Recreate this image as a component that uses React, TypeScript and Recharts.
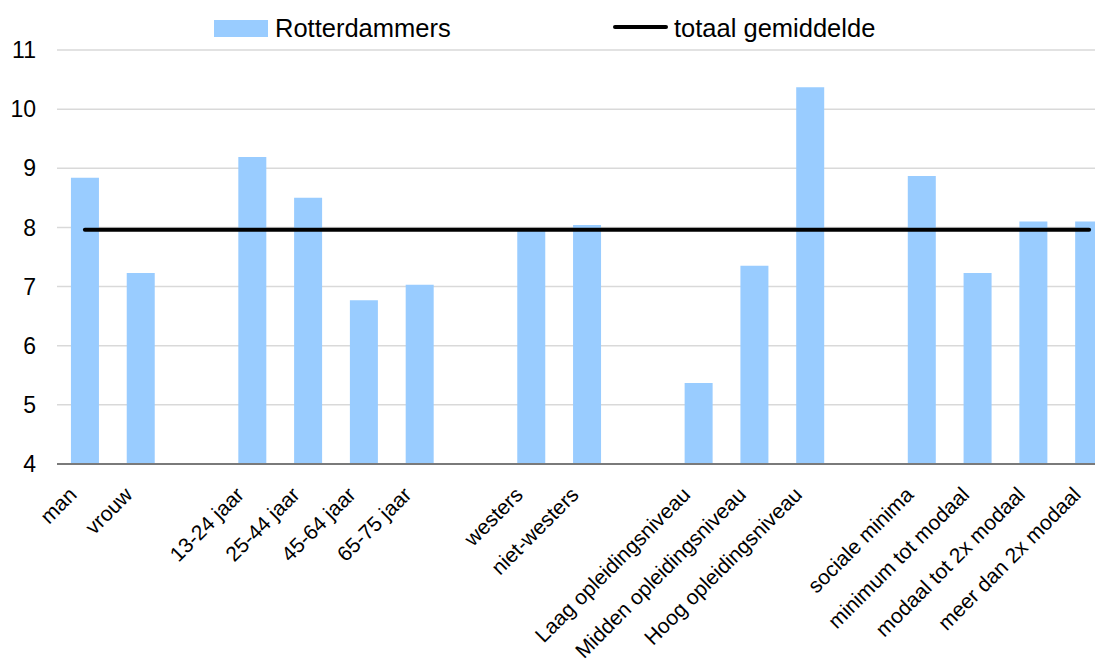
import { ComposedChart, Bar, Line, XAxis, YAxis, CartesianGrid } from 'recharts';

const categories = [
  'man', 'vrouw', '',
  '13-24 jaar', '25-44 jaar', '45-64 jaar', '65-75 jaar', '',
  'westers', 'niet-westers', '',
  'Laag opleidingsniveau', 'Midden opleidingsniveau', 'Hoog opleidingsniveau', '',
  'sociale minima', 'minimum tot modaal', 'modaal tot 2x modaal', 'meer dan 2x modaal',
];

const rotterdammers = [
  8.84, 7.23, null,
  9.19, 8.5, 6.77, 7.03, null,
  7.95, 8.04, null,
  5.37, 7.35, 10.37, null,
  8.87, 7.23, 8.1, 8.1,
];

const totaalGemiddelde = [
  7.96, 7.96, 7.96,
  7.96, 7.96, 7.96, 7.96, 7.96,
  7.96, 7.96, 7.96,
  7.96, 7.96, 7.96, 7.96,
  7.96, 7.96, 7.96, 7.96,
];

const yTicks = [4, 5, 6, 7, 8, 9, 10, 11];

const FONT = '"Liberation Sans", Arial, sans-serif';
const BAR_COLOR = '#99ccff';

const data = categories.map((name, i) => ({
  key: `c${i}`,
  name,
  rotterdammers: rotterdammers[i],
  totaal: totaalGemiddelde[i],
}));

const CategoryTick = (props: any) => {
  const { x, y, payload } = props;
  const label = categories[payload.index] ?? '';
  if (!label) return null;
  const ax = x - 7;
  const ay = y + 32;
  return (
    <text
      x={ax}
      y={ay}
      transform={`rotate(-45, ${ax}, ${ay})`}
      textAnchor="end"
      fontSize={21}
      fontFamily={FONT}
      fill="#000"
    >
      {label}
    </text>
  );
};

export default function App() {
  return (
    <div style={{ position: 'relative', width: 1095, height: 654, overflow: 'hidden', fontFamily: FONT }}>
      <div style={{ position: 'absolute', left: 206, top: 12, width: 54, height: 17, background: BAR_COLOR }} />
      <div style={{ position: 'absolute', left: 267, top: 5, fontSize: 25.5, lineHeight: '30px', color: '#000' }}>
        Rotterdammers
      </div>
      <div style={{ position: 'absolute', left: 605, top: 17, width: 55, height: 4, background: '#000', borderRadius: 2 }} />
      <div style={{ position: 'absolute', left: 666, top: 5, fontSize: 25.5, lineHeight: '30px', color: '#000' }}>
        totaal gemiddelde
      </div>
      <ComposedChart
        width={1115}
        height={654}
        data={data}
        margin={{ top: 42, right: 6, bottom: 0, left: 0 }}
        barCategoryGap="25%"
      >
        <CartesianGrid horizontal vertical={false} stroke="#d9d9d9" strokeWidth={1.5} />
        <XAxis
          dataKey="key"
          height={198}
          tick={<CategoryTick />}
          tickLine={false}
          tickSize={0}
          tickMargin={0}
          interval={0}
          axisLine={{ stroke: '#7a7a7a', strokeWidth: 2 }}
        />
        <YAxis
          width={49}
          domain={[4, 11]}
          ticks={yTicks}
          axisLine={false}
          tickLine={false}
          tickSize={0}
          tickMargin={21}
          tick={{ fontSize: 23, fill: '#000', fontFamily: FONT }}
        />
        <Bar dataKey="rotterdammers" fill={BAR_COLOR} isAnimationActive={false} />
        <Line
          dataKey="totaal"
          stroke="#000"
          strokeWidth={4}
          strokeLinecap="round"
          dot={false}
          activeDot={false}
          isAnimationActive={false}
        />
      </ComposedChart>
    </div>
  );
}
